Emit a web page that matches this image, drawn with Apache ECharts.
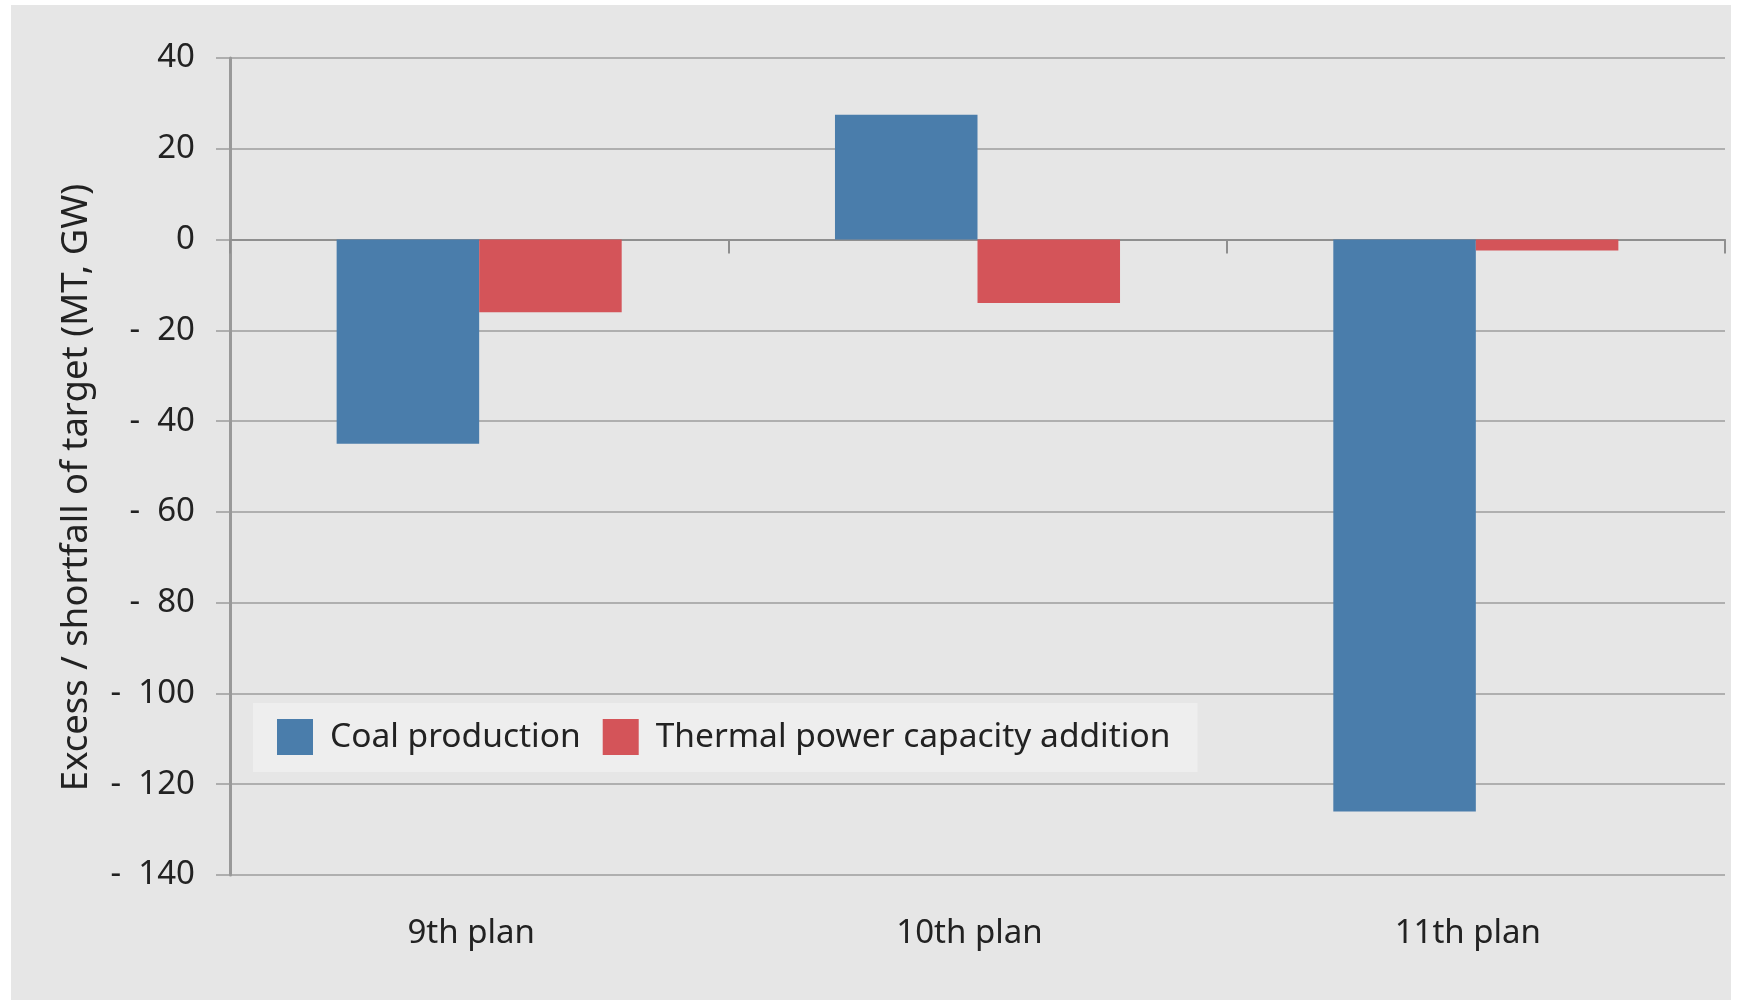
<!DOCTYPE html>
<html>
<head>
<meta charset="utf-8">
<script src="https://cdn.jsdelivr.net/npm/echarts@6/dist/echarts.min.js"></script>
<style>
  html, body { margin: 0; padding: 0; background: #ffffff; }
  #chart { position: absolute; left: 11px; top: 5px; width: 1720px; height: 995px; background: #e6e6e6; }
</style>
</head>
<body>
<div id="chart"></div>
<script>
// Five-year plan performance against targets
const plans = ['9th plan', '10th plan', '11th plan'];
const coalProduction = [-45, 27.5, -126];
const thermalCapacity = [-16, -14, -2.4];
const yTicks = { min: -140, max: 40, step: 20 };

const FONT = 'Noto Sans';
const TEXT = '#222222';
const GRID_GREY = '#9c9c9c';

const chart = echarts.init(document.getElementById('chart'));
chart.setOption({
  backgroundColor: '#e6e6e6',
  animation: false,
  textStyle: { fontFamily: FONT },
  grid: { left: 219, right: 6, top: 53, bottom: 125 },
  legend: {
    left: 242, top: 698,
    orient: 'horizontal',
    backgroundColor: '#eeeeee',
    padding: [16, 27, 17, 24],
    itemWidth: 36, itemHeight: 36, itemGap: 22,
    icon: 'rect',
    textStyle: { fontFamily: FONT, fontSize: 33.5, color: TEXT, padding: [0, 0, 0, 12] },
    data: ['Coal production', 'Thermal power capacity addition']
  },
  xAxis: [
    {
      type: 'category', data: plans, position: 'bottom',
      axisLine: { onZero: true, lineStyle: { color: '#8f8f8f', width: 2 } },
      axisTick: { show: true, length: 14, lineStyle: { color: '#8f8f8f', width: 2 } },
      axisLabel: { show: false },
      splitLine: { show: false }
    },
    {
      type: 'category', data: plans, position: 'bottom',
      axisLine: { show: false, onZero: false },
      axisTick: { show: false },
      axisLabel: { fontFamily: FONT, fontSize: 33, color: TEXT, margin: 42, padding: [0, 16, 0, 0] },
      splitLine: { show: false }
    }
  ],
  yAxis: {
    type: 'value', min: yTicks.min, max: yTicks.max, interval: yTicks.step,
    name: 'Excess / shortfall of target (MT, GW)',
    nameLocation: 'middle', nameGap: 135,
    nameTextStyle: { fontFamily: FONT, fontSize: 36.5, color: TEXT, padding: [0, 42, 0, 0] },
    axisLine: { show: true, lineStyle: { color: '#999999', width: 3 } },
    axisTick: { show: true, length: 14, lineStyle: { color: GRID_GREY, width: 1.5 } },
    axisLabel: {
      fontFamily: FONT, fontSize: 33, color: TEXT, margin: 35,
      formatter: v => v < 0 ? '-  ' + Math.abs(v) : String(v)
    },
    splitLine: { show: true, lineStyle: { color: GRID_GREY, width: 1.5 } }
  },
  series: [
    {
      name: 'Coal production', type: 'bar', data: coalProduction,
      xAxisIndex: 0, barGap: '0%', barCategoryGap: '42.8%',
      itemStyle: { color: '#4a7dab' }
    },
    {
      name: 'Thermal power capacity addition', type: 'bar', data: thermalCapacity,
      xAxisIndex: 0, barGap: '0%', barCategoryGap: '42.8%',
      itemStyle: { color: '#d45459' }
    }
  ]
});
</script>
</body>
</html>
